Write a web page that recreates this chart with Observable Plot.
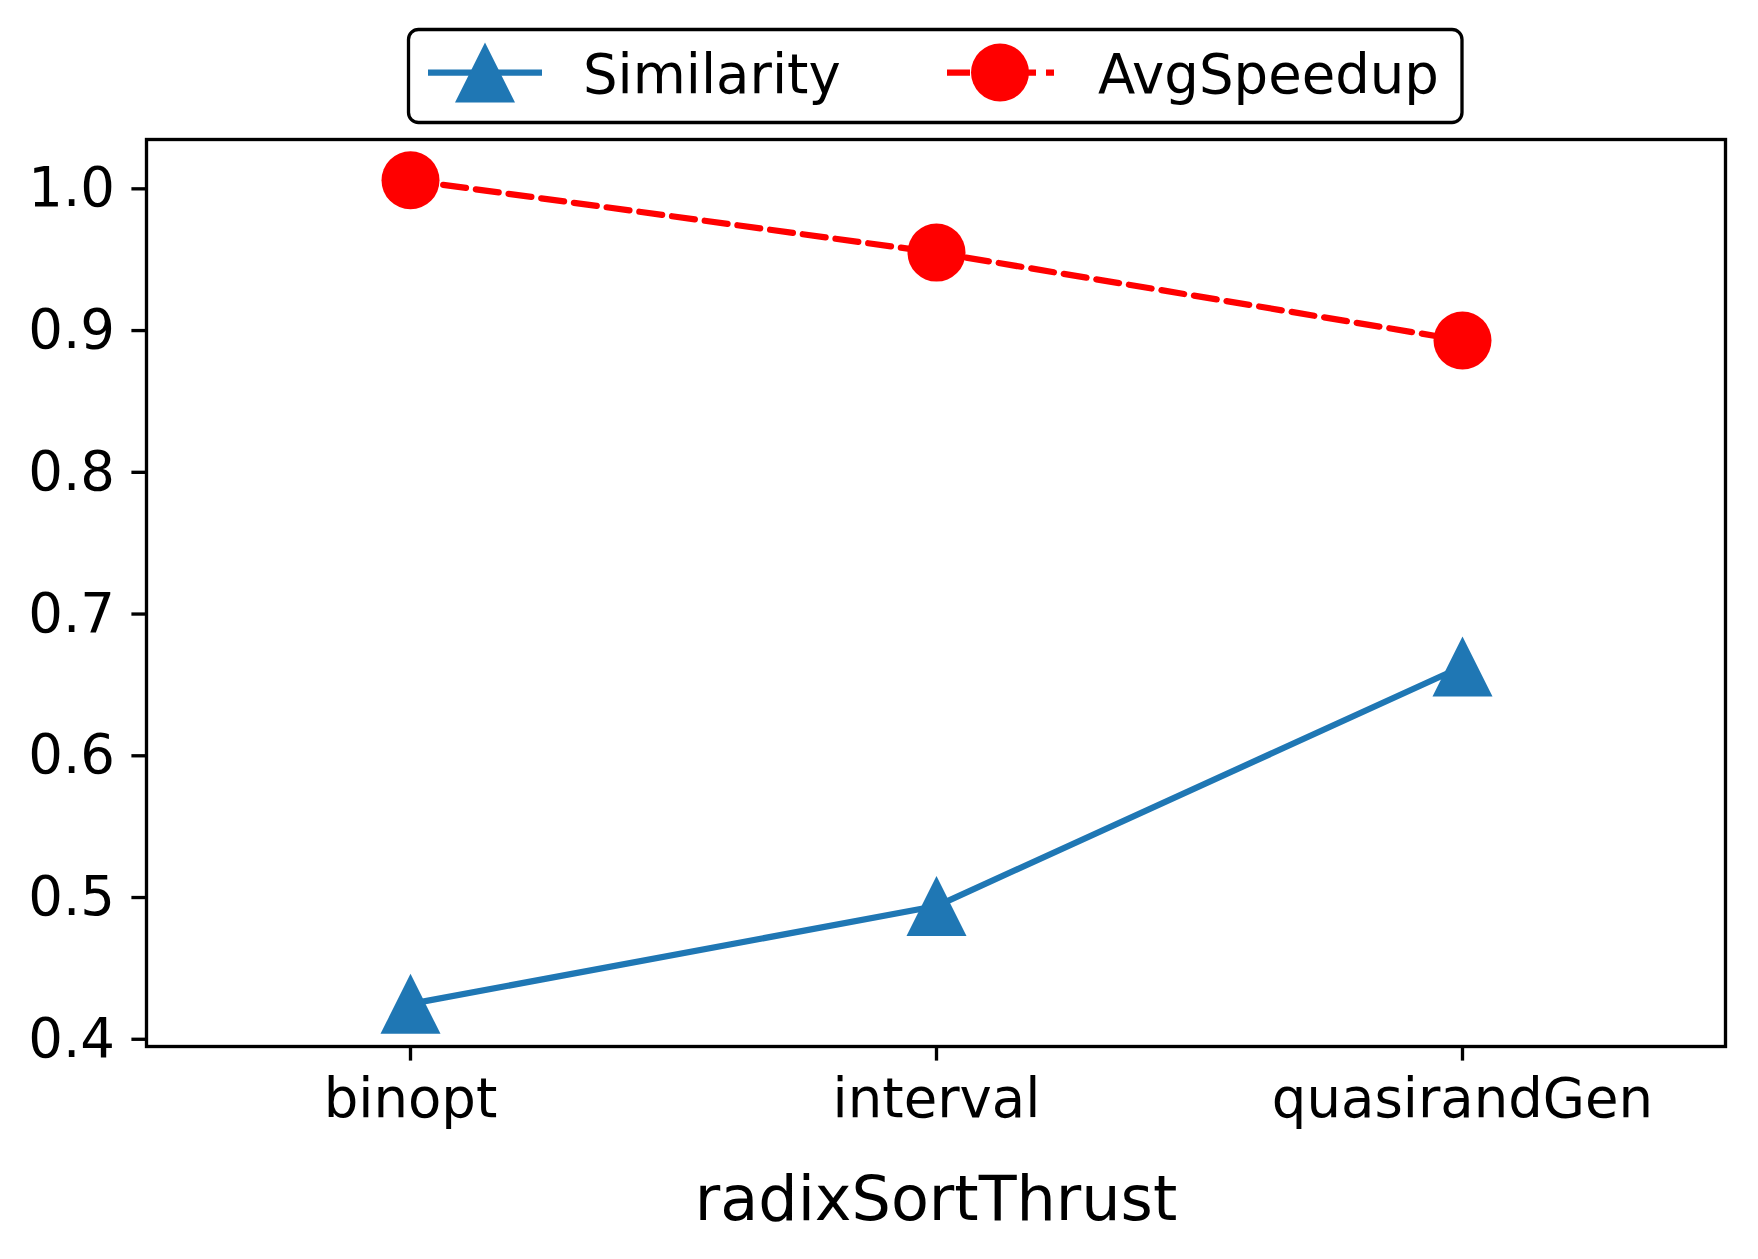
<!DOCTYPE html>
<html><head><meta charset="utf-8">
<script src="https://cdn.jsdelivr.net/npm/d3@7"></script>
<script src="https://cdn.jsdelivr.net/npm/@observablehq/plot@0.6"></script>
<style>
html,body{margin:0;padding:0;background:#fff;}
#wrap{position:relative;width:1758px;height:1259px;overflow:hidden;}
#wrap svg{display:block;}
#legend{position:absolute;left:0;top:0;}
</style></head><body><div id="wrap"></div>
<script>
const categories = ["binopt", "interval", "quasirandGen"];
const similarity = [0.425, 0.494, 0.663];
const avgSpeedup = [1.006, 0.955, 0.893];
const yTicks = [0.4, 0.5, 0.6, 0.7, 0.8, 0.9, 1.0];
const seriesNames = ["Similarity", "AvgSpeedup"];
const seriesColors = ["#1f77b4", "#ff0000"];
const xLabel = "radixSortThrust";

const simData = categories.map((c, i) => ({cat: c, value: similarity[i]}));
const spdData = categories.map((c, i) => ({cat: c, value: avgSpeedup[i]}));

const triangleUp = {
  draw(ctx, size) {
    const r = Math.sqrt(size / Math.PI);
    ctx.moveTo(0, -r);
    ctx.lineTo(r, r);
    ctx.lineTo(-r, r);
    ctx.closePath();
  }
};

const FONT = "DejaVu Sans";
const FS = 54.5;
const LW = 6.25;
const DASH = "23,10";

const chart = Plot.plot({
  width: 1758,
  height: 1259,
  marginTop: 139,
  marginBottom: 213,
  marginLeft: 146,
  marginRight: 33,
  style: {fontFamily: FONT, fontSize: FS + "px", color: "#000", background: "#fff", overflow: "visible"},
  x: {type: "point", domain: categories, padding: 0.5, align: 0.5},
  y: {domain: [0.3949, 1.0348]},
  marks: [
    Plot.axisY({ticks: yTicks, tickFormat: d3.format(".1f"), tickSize: 14.6, tickPadding: 17, strokeWidth: 3.33, fontSize: FS, label: null}),
    Plot.axisX({tickSize: 14.6, tickPadding: 17, strokeWidth: 3.33, fontSize: FS, label: null}),
    Plot.text([xLabel], {frameAnchor: "bottom", dy: 129, lineAnchor: "top", fontSize: 62, fill: "#000"}),
    Plot.line(simData, {x: "cat", y: "value", stroke: seriesColors[0], strokeWidth: LW}),
    Plot.dot(simData, {x: "cat", y: "value", symbol: triangleUp, r: 30, fill: seriesColors[0], stroke: "none"}),
    Plot.line(spdData, {x: "cat", y: "value", stroke: seriesColors[1], strokeWidth: LW, strokeDasharray: DASH}),
    Plot.dot(spdData, {x: "cat", y: "value", r: 29, fill: seriesColors[1], stroke: "none"}),
    Plot.frame({stroke: "#000", strokeWidth: 3.33})
  ]
});

const wrap = document.getElementById("wrap");
wrap.appendChild(chart);

// Legend (overlay SVG above the plot area)
const lg = d3.select(wrap).append("svg").attr("id", "legend")
  .attr("width", 1758).attr("height", 135)
  .style("font-family", FONT);
lg.append("rect").attr("x", 408.5).attr("y", 29.5).attr("width", 1053.5).attr("height", 93)
  .attr("rx", 10).attr("fill", "#fff").attr("stroke", "#000").attr("stroke-width", 3.3);

const items = [
  {name: seriesNames[0], color: seriesColors[0], x1: 428, x2: 542, cx: 485, tx: 583, marker: "tri", dash: null},
  {name: seriesNames[1], color: seriesColors[1], x1: 947, x2: 1054, cx: 1000, tx: 1098, marker: "circle", dash: DASH}
];
const ly = 72.5;
for (const it of items) {
  const ln = lg.append("line").attr("x1", it.x1).attr("x2", it.x2).attr("y1", ly).attr("y2", ly)
    .attr("stroke", it.color).attr("stroke-width", LW);
  if (it.dash) ln.attr("stroke-dasharray", it.dash);
  if (it.marker === "tri") {
    lg.append("path").attr("d", `M${it.cx},${ly - 30}L${it.cx + 30},${ly + 30}L${it.cx - 30},${ly + 30}Z`).attr("fill", it.color);
  } else {
    lg.append("circle").attr("cx", it.cx).attr("cy", ly).attr("r", 29).attr("fill", it.color);
  }
  lg.append("text").attr("x", it.tx).attr("y", ly + 20).attr("font-size", FS).attr("fill", "#000").text(it.name);
}
</script></body></html>
